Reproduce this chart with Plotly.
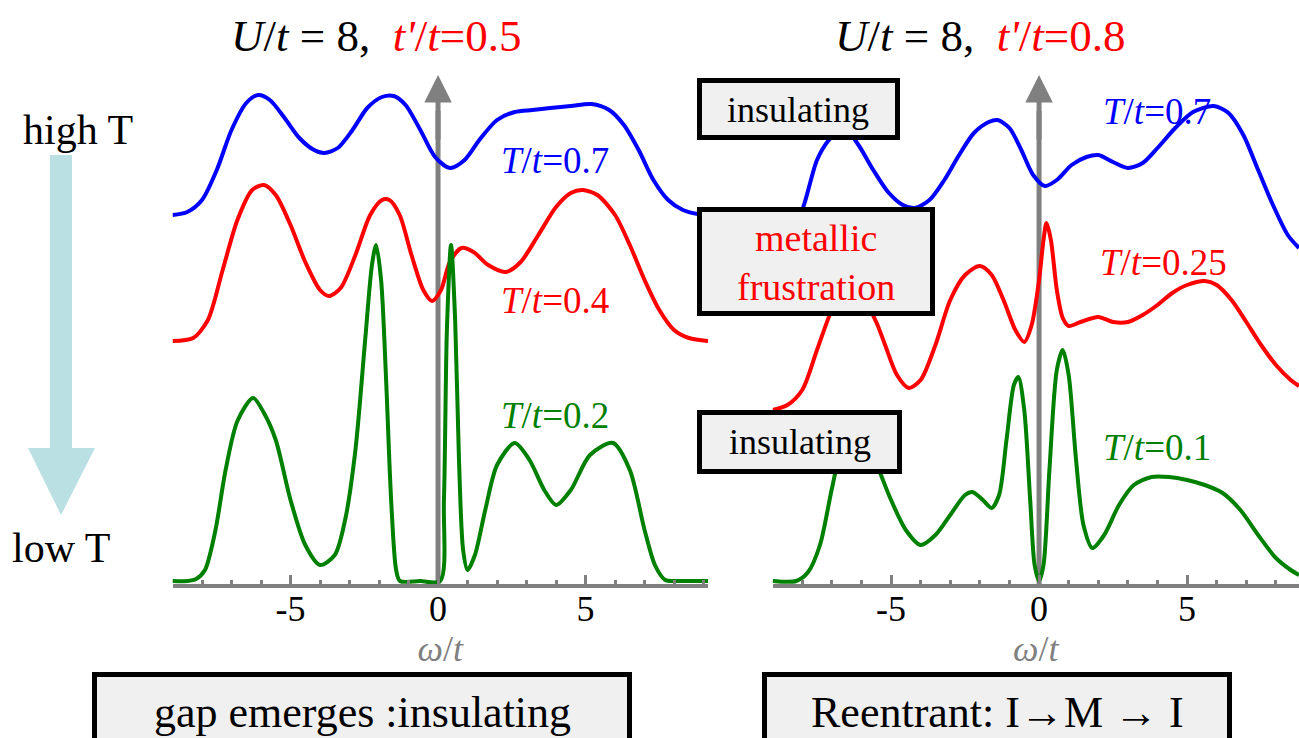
import plotly.graph_objects as go

W, H = 1299, 738

# ---------------- data ----------------
# Left panel: U/t = 8, t'/t = 0.5
L_green_w = [-9.0, -8.5, -8.2, -7.9, -7.55, -7.2, -6.8, -6.27, -5.9, -5.5, -5.0, -4.5, -4.0, -3.5, -3.15, -2.8,
             -2.47, -2.24, -2.1, -1.93, -1.76, -1.59, -1.42, -1.29, -0.6, 0.07, 0.2, 0.3, 0.44, 0.58, 0.71, 0.85,
             1.0, 1.25, 1.6, 2.0, 2.6, 3.1, 3.6, 4.0, 4.5, 5.15, 5.93, 6.5, 7.0, 7.35, 7.7, 8.0, 8.6, 9.15]
L_green_A = [0.0, 0.0, 0.002, 0.011, 0.05, 0.111, 0.16, 0.183, 0.168, 0.141, 0.081, 0.036, 0.016, 0.026, 0.061, 0.131,
             0.241, 0.316, 0.336, 0.301, 0.201, 0.081, 0.011, 0.0, 0.0, 0.0, 0.081, 0.251, 0.336, 0.261, 0.121, 0.031,
             0.011, 0.026, 0.071, 0.116, 0.138, 0.121, 0.091, 0.076, 0.091, 0.126, 0.138, 0.111, 0.051, 0.016, 0.001, 0.0, 0.0, 0.0]

L_red_w = [-9.0, -8.3, -7.8, -7.3, -6.8, -6.3, -5.9, -5.5, -5.0, -4.5, -4.0, -3.7, -3.3, -2.8, -2.3, -1.9, -1.65,
           -1.3, -0.9, -0.5, -0.2, 0.1, 0.4, 0.8, 1.2, 1.7, 2.3, 2.8, 3.4, 4.0, 4.5, 4.9, 5.4, 6.0, 6.5, 7.0, 7.5,
           8.0, 8.5, 9.15]
L_red_A = [0.0, 0.003, 0.021, 0.071, 0.121, 0.151, 0.156, 0.146, 0.116, 0.079, 0.051, 0.045, 0.053, 0.086, 0.126,
           0.141, 0.141, 0.126, 0.086, 0.051, 0.040, 0.051, 0.079, 0.093, 0.089, 0.076, 0.069, 0.079, 0.106, 0.134,
           0.148, 0.151, 0.146, 0.126, 0.096, 0.061, 0.031, 0.011, 0.003, 0.0]

L_blue_w = [-9.0, -8.5, -8.0, -7.5, -7.0, -6.5, -6.1, -5.7, -5.2, -4.7, -4.2, -3.85, -3.4, -2.9, -2.4, -1.9, -1.5,
            -1.1, -0.6, -0.1, 0.4, 0.9, 1.4, 2.0, 2.6, 3.2, 3.8, 4.5, 5.2, 5.8, 6.3, 6.8, 7.3, 7.8, 8.3, 8.8, 9.15]
L_blue_A = [0.0, 0.003, 0.015, 0.045, 0.085, 0.112, 0.12, 0.115, 0.097, 0.077, 0.065, 0.062, 0.067, 0.085, 0.107,
            0.118, 0.119, 0.11, 0.085, 0.058, 0.047, 0.055, 0.075, 0.095, 0.103, 0.105, 0.107, 0.109, 0.111, 0.105,
            0.09, 0.065, 0.035, 0.015, 0.005, 0.001, 0.0]

# Right panel: U/t = 8, t'/t = 0.8
R_green_w = [-9.0, -8.2, -7.8, -7.4, -7.0, -6.6, -6.2, -5.8, -5.3, -5.0, -4.5, -4.0, -3.5, -3.0, -2.5, -2.25, -1.9,
             -1.6, -1.35, -1.1, -0.85, -0.7, -0.5, -0.3, -0.15, 0.0, 0.15, 0.35, 0.6, 0.8, 1.0, 1.25, 1.5, 1.8, 2.2,
             2.7, 3.2, 3.8, 4.4, 5.0, 5.6, 6.2, 6.8, 7.4, 8.0, 8.5, 8.78]
R_green_A = [0.0, 0.0, 0.009, 0.036, 0.092, 0.142, 0.163, 0.142, 0.103, 0.081, 0.051, 0.036, 0.046, 0.066, 0.086, 0.089,
             0.081, 0.073, 0.086, 0.141, 0.196, 0.204, 0.171, 0.081, 0.016, 0.0, 0.016, 0.111, 0.211, 0.231, 0.206,
             0.121, 0.056, 0.033, 0.046, 0.076, 0.096, 0.104, 0.104, 0.101, 0.096, 0.088, 0.071, 0.046, 0.023, 0.011,
             0.006]

R_red_w = [-9.0, -8.5, -8.0, -7.5, -7.0, -6.5, -6.0, -5.5, -5.2, -4.8, -4.4, -4.0, -3.5, -3.0, -2.5, -2.0, -1.6, -1.2,
           -0.8, -0.5, -0.25, 0.0, 0.15, 0.25, 0.4, 0.6, 0.8, 1.0, 1.4, 2.0, 2.5, 3.0, 3.5, 4.0, 4.5, 5.0, 5.6, 6.0,
           6.5, 7.0, 7.5, 8.0, 8.5, 8.78]
R_red_A = [0.0, 0.005, 0.02, 0.06, 0.1, 0.125, 0.115, 0.088, 0.065, 0.035, 0.022, 0.03, 0.065, 0.11, 0.135, 0.144,
           0.135, 0.11, 0.08, 0.068, 0.085, 0.13, 0.17, 0.187, 0.17, 0.12, 0.092, 0.084, 0.088, 0.093, 0.088, 0.088,
           0.095, 0.105, 0.117, 0.125, 0.129, 0.125, 0.11, 0.088, 0.065, 0.045, 0.03, 0.024]

R_blue_w = [-9.0, -8.5, -8.0, -7.5, -7.1, -6.6, -6.1, -5.6, -5.1, -4.6, -4.2, -3.7, -3.2, -2.7, -2.2, -1.7, -1.4,
            -1.0, -0.6, -0.2, 0.2, 0.6, 1.1, 1.6, 2.0, 2.5, 3.0, 3.5, 4.0, 4.6, 5.2, 5.9, 6.4, 6.9, 7.4, 7.9, 8.4, 8.78]
R_blue_A = [0.01, 0.025, 0.052, 0.102, 0.122, 0.135, 0.117, 0.092, 0.07, 0.057, 0.054, 0.062, 0.082, 0.107, 0.129,
            0.14, 0.142, 0.134, 0.112, 0.087, 0.076, 0.082, 0.097, 0.105, 0.107, 0.1, 0.094, 0.099, 0.114, 0.134,
            0.15, 0.156, 0.149, 0.127, 0.092, 0.057, 0.027, 0.014]

# vertical offsets of the stacked curves
L_offsets = {"green": 0.0, "red": 0.240, "blue": 0.366}
R_offsets = {"green": 0.0, "red": 0.171, "blue": 0.319}

tick_vals = [-5, 0, 5]
tick_text = ["-5", "0", "5"]

L_labels = [("<i>T</i>/<i>t</i>=0.7", "blue"), ("<i>T</i>/<i>t</i>=0.4", "red"), ("<i>T</i>/<i>t</i>=0.2", "green")]
R_labels = [("<i>T</i>/<i>t</i>=0.7", "blue"), ("<i>T</i>/<i>t</i>=0.25", "red"), ("<i>T</i>/<i>t</i>=0.1", "green")]

COL = {"blue": "#0000ff", "red": "#ff0000", "green": "#008000"}
GRAY = "#808080"
SERIF = "Liberation Serif"


def px(x):
    return x / W


def py(y):
    return 1 - y / H


fig = go.Figure()

# y-axis arrows (shaft drawn beneath curves)
for xa, ya in (("x", "y"), ("x2", "y2")):
    fig.add_trace(go.Scatter(x=[0, 0], y=[-0.003, 0.47], mode="lines",
                             line=dict(color=GRAY, width=5), xaxis=xa, yaxis=ya,
                             showlegend=False, hoverinfo="skip"))


def add_curve(w, A, off, color, xa, ya):
    fig.add_trace(go.Scatter(x=w, y=[a + off for a in A], mode="lines",
                             line=dict(color=COL[color], width=4, shape="spline", smoothing=0.8),
                             xaxis=xa, yaxis=ya, showlegend=False, hoverinfo="skip"))


add_curve(L_blue_w, L_blue_A, L_offsets["blue"], "blue", "x", "y")
add_curve(L_red_w, L_red_A, L_offsets["red"], "red", "x", "y")
add_curve(L_green_w, L_green_A, L_offsets["green"], "green", "x", "y")
add_curve(R_blue_w, R_blue_A, R_offsets["blue"], "blue", "x2", "y2")
add_curve(R_red_w, R_red_A, R_offsets["red"], "red", "x2", "y2")
add_curve(R_green_w, R_green_A, R_offsets["green"], "green", "x2", "y2")

xa_common = dict(showline=True, linecolor=GRAY, linewidth=4, ticks="inside", ticklen=9, tickwidth=3,
                 tickcolor=GRAY, tickvals=tick_vals, ticktext=tick_text, showgrid=False, zeroline=False,
                 tickfont=dict(family=SERIF, size=36, color="black"), ticklabelstandoff=-10,
                 minor=dict(dtick=1, ticks="inside", ticklen=4, tickwidth=3, tickcolor=GRAY, showgrid=False),
                 title=dict(text="<i>ω</i>/<i>t</i>", font=dict(family=SERIF, size=36, color=GRAY), standoff=0),
                 fixedrange=True)
ya_common = dict(visible=False, range=[-0.003, 0.511], domain=[py(584), py(70)], fixedrange=True)

fig.update_layout(
    width=W, height=H, margin=dict(l=0, r=0, t=0, b=0),
    paper_bgcolor="white", plot_bgcolor="rgba(0,0,0,0)",
    font=dict(family=SERIF),
    xaxis=dict(domain=[px(172.5), px(708)], range=[-9.0, 9.15], anchor="y", **xa_common),
    xaxis2=dict(domain=[px(772.6), 1.0], range=[-9.0, 8.78], anchor="y2", **xa_common),
    yaxis=dict(anchor="x", **ya_common),
    yaxis2=dict(anchor="x2", **ya_common),
)

ann = []
# arrow heads of the vertical axes
for xr, yr in (("x", "y"), ("x2", "y2")):
    ann.append(dict(x=0, y=0.506, ax=0, ay=0.44, xref=xr, yref=yr, axref=xr, ayref=yr, text="",
                    showarrow=True, arrowhead=2, arrowsize=1.1, arrowwidth=5, arrowcolor=GRAY))


def label(x, y, txt, size, color):
    ann.append(dict(x=px(x), y=py(y), xref="paper", yref="paper", showarrow=False, text=txt,
                    xanchor="center", yanchor="middle",
                    font=dict(family=SERIF, size=size, color=color)))


# panel titles
label(376, 36, "<i>U</i>/<i>t</i> = 8,  <span style='color:#ff0000'><i>t'</i>/<i>t</i>=0.5</span>", 45, "black")
label(980, 36, "<i>U</i>/<i>t</i> = 8,  <span style='color:#ff0000'><i>t'</i>/<i>t</i>=0.8</span>", 45, "black")

# temperature labels
for (txt, c), (x, y) in zip(L_labels, [(555, 160), (555, 300), (555, 415)]):
    label(x, y, txt, 37, COL[c])
for (txt, c), (x, y) in zip(R_labels, [(1157, 112), (1163, 262), (1157, 447)]):
    label(x, y, txt, 37, COL[c])

# high T / low T
label(78, 130, "high T", 42, "black")
label(61, 548, "low T", 42, "black")

# boxes
shapes = []
boxes = [
    ((699.5, 80.5, 897.5, 137.5), "insulating", "black", 36, (798, 110)),
    ((699.5, 209.5, 932.5, 313.5), "metallic<br>frustration", "#ff0000", 38, (816, 262)),
    ((699.5, 412.5, 899.5, 471.5), "insulating", "black", 36, (800, 442)),
    ((94.5, 674.5, 629.5, 770), "gap emerges :insulating", "black", 44, (362, 712)),
    ((764.5, 674.5, 1229.5, 770), "Reentrant: I\u2192M \u2192 I", "black", 44, (997, 712)),
]
for (x0, y0, x1, y1), txt, c, fs, (tx, ty) in boxes:
    shapes.append(dict(type="rect", xref="paper", yref="paper", x0=px(x0), x1=px(x1), y0=py(y1), y1=py(y0),
                       fillcolor="#f0f0f0", line=dict(color="black", width=5), layer="above"))
    label(tx, ty, txt, fs, c)

# teal "high T -> low T" arrow
pts = [(50, 155), (72, 155), (72, 448), (95, 448), (61, 515), (28, 448), (50, 448)]
path = "M " + " L ".join(f"{px(x):.5f},{py(y):.5f}" for x, y in pts) + " Z"
shapes.append(dict(type="path", xref="paper", yref="paper", path=path, fillcolor="#bae0e4",
                   line=dict(width=0), layer="above"))

fig.update_layout(annotations=ann, shapes=shapes)
fig.write_html("out.html")
